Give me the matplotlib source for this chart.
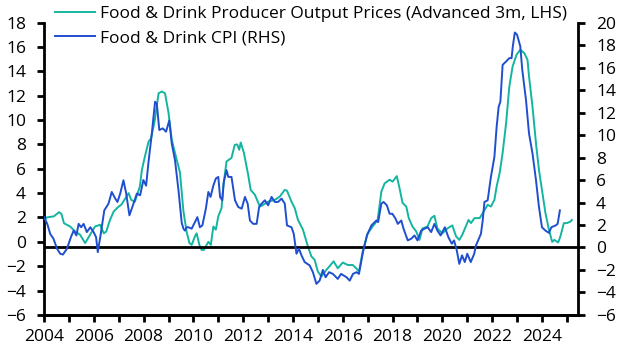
import matplotlib

matplotlib.use("Agg")

import matplotlib.pyplot as plt
from matplotlib.ticker import MultipleLocator

plt.rcParams["font.family"] = ["Open Sans", "DejaVu Sans"]

TEAL = "#14B5A0"
BLUE = "#1F4FCF"

# Food & Drink producer output prices (advanced 3m), % y/y, LHS
ppi_dates = [
    2004.0, 2004.1, 2004.4, 2004.6, 2004.7, 2004.8, 2005.05, 2005.25, 2005.45, 2005.65,
    2005.85, 2006.05, 2006.25, 2006.4, 2006.5, 2006.65, 2006.8, 2007.0, 2007.1, 2007.4,
    2007.5, 2007.65, 2007.85, 2007.93, 2008.05, 2008.2, 2008.3, 2008.45, 2008.6, 2008.73,
    2008.86, 2009.0, 2009.13, 2009.26, 2009.46, 2009.6, 2009.73, 2009.84, 2009.93, 2010.06,
    2010.13, 2010.24, 2010.33, 2010.42, 2010.6, 2010.7, 2010.8, 2010.9, 2011.0, 2011.13,
    2011.2, 2011.33, 2011.53, 2011.66, 2011.76, 2011.84, 2011.9, 2012.03, 2012.2, 2012.3,
    2012.47, 2012.67, 2012.8, 2013.0, 2013.27, 2013.47, 2013.67, 2013.76, 2013.94, 2014.07,
    2014.2, 2014.4, 2014.6, 2014.74, 2014.87, 2015.0, 2015.14, 2015.34, 2015.47, 2015.63,
    2015.8, 2016.0, 2016.2, 2016.4, 2016.55, 2016.65, 2016.8, 2017.0, 2017.2, 2017.4,
    2017.55, 2017.68, 2017.88, 2018.0, 2018.17, 2018.28, 2018.4, 2018.55, 2018.65, 2018.8,
    2018.95, 2019.08, 2019.2, 2019.4, 2019.55, 2019.68, 2019.8, 2020.0, 2020.2, 2020.4,
    2020.55, 2020.68, 2020.8, 2020.94, 2021.05, 2021.15, 2021.29, 2021.5, 2021.62, 2021.82,
    2021.95, 2022.09, 2022.18, 2022.3, 2022.42, 2022.56, 2022.69, 2022.82, 2022.98, 2023.13,
    2023.29, 2023.42, 2023.48, 2023.62, 2023.76, 2023.88, 2024.02, 2024.14, 2024.28, 2024.41,
    2024.5, 2024.65, 2024.74, 2024.88, 2025.0, 2025.15, 2025.2,
]
ppi_values = [
    1.6, 2.0, 2.1, 2.44, 2.3, 1.53, 1.26, 0.85, 0.58, -0.1,
    0.58, 1.26, 1.4, 0.7, 0.85, 1.8, 2.5, 2.9, 3.04, 4.0,
    3.45, 3.3, 4.55, 5.9, 7.0, 8.24, 8.5, 10.0, 12.2, 12.35,
    12.2, 10.6, 8.4, 7.3, 5.7, 2.5, 0.8, -0.1, -0.25, 0.44,
    0.7, -0.25, -0.66, -0.66, 0.0, -0.25, 1.26, 1.0, 2.1, 2.77,
    4.55, 6.6, 6.9, 7.97, 8.0, 7.56, 8.16, 7.3, 5.5, 4.27,
    3.86, 2.9, 3.04, 3.3, 3.45, 3.72, 4.27, 4.2, 3.3, 2.77,
    1.8, 1.0, -0.39, -1.2, -1.48, -2.44, -2.85, -2.3, -2.0, -1.6,
    -2.17, -1.7, -1.9, -1.9, -2.2, -2.44, -0.8, 0.7, 1.26, 1.8,
    4.13, 4.8, 5.1, 4.95, 5.4, 4.4, 3.2, 2.9, 1.95, 1.26,
    0.85, 0.16, 1.1, 1.26, 1.95, 2.14, 1.1, 0.7, 1.1, 1.35,
    0.45, 0.16, 0.58, 1.26, 1.8, 1.54, 1.95, 1.95, 2.36, 3.04,
    2.9, 3.45, 4.55, 5.64, 7.3, 9.75, 12.76, 14.4, 15.37, 15.78,
    15.5, 14.95, 13.6, 11.1, 8.1, 5.9, 4.0, 2.36, 1.0, 0.0,
    0.16, -0.05, 0.44, 1.54, 1.54, 1.67, 1.8,
]

# Food & Drink CPI, % y/y, RHS
cpi_dates = [
    2004.0, 2004.13, 2004.25, 2004.38, 2004.52, 2004.65, 2004.76, 2004.92, 2005.08, 2005.19,
    2005.3, 2005.39, 2005.49, 2005.59, 2005.72, 2005.86, 2005.99, 2006.09, 2006.16, 2006.28,
    2006.42, 2006.59, 2006.72, 2006.86, 2006.95, 2007.06, 2007.19, 2007.3, 2007.43, 2007.57,
    2007.73, 2007.86, 2007.99, 2008.1, 2008.19, 2008.33, 2008.46, 2008.53, 2008.63, 2008.77,
    2008.9, 2009.03, 2009.13, 2009.26, 2009.4, 2009.53, 2009.6, 2009.66, 2009.73, 2009.8,
    2009.93, 2010.06, 2010.16, 2010.26, 2010.36, 2010.5, 2010.6, 2010.69, 2010.8, 2010.9,
    2011.0, 2011.07, 2011.16, 2011.22, 2011.33, 2011.4, 2011.53, 2011.67, 2011.8, 2011.94,
    2012.07, 2012.18, 2012.27, 2012.4, 2012.54, 2012.64, 2012.74, 2012.87, 2013.0, 2013.14,
    2013.27, 2013.4, 2013.54, 2013.67, 2013.76, 2013.94, 2014.03, 2014.14, 2014.24, 2014.34,
    2014.47, 2014.67, 2014.8, 2014.94, 2015.07, 2015.2, 2015.31, 2015.45, 2015.6, 2015.8,
    2015.93, 2016.15, 2016.28, 2016.41, 2016.55, 2016.65, 2016.81, 2016.97, 2017.15, 2017.35,
    2017.42, 2017.55, 2017.64, 2017.77, 2017.88, 2017.99, 2018.12, 2018.21, 2018.35, 2018.44,
    2018.61, 2018.75, 2018.88, 2019.0, 2019.15, 2019.28, 2019.41, 2019.55, 2019.68, 2019.8,
    2019.93, 2020.1, 2020.24, 2020.38, 2020.47, 2020.58, 2020.68, 2020.79, 2020.9, 2021.0,
    2021.14, 2021.28, 2021.35, 2021.55, 2021.62, 2021.69, 2021.82, 2021.95, 2022.09, 2022.18,
    2022.26, 2022.33, 2022.42, 2022.56, 2022.69, 2022.78, 2022.83, 2022.91, 2023.0, 2023.13,
    2023.21, 2023.36, 2023.48, 2023.62, 2023.76, 2023.88, 2024.0, 2024.14, 2024.28, 2024.38,
    2024.55, 2024.63, 2024.72,
]
cpi_values = [
    2.7, 2.1, 1.2, 0.78, -0.1, -0.56, -0.63, -0.12, 0.92, 1.5,
    1.07, 2.1, 1.8, 2.1, 1.37, 1.8, 1.37, 0.92, -0.42, 1.22,
    3.3, 3.9, 4.94, 4.35, 4.05, 4.8, 5.98, 4.8, 2.86, 3.75,
    4.8, 4.64, 6.0, 5.5, 7.47, 10.15, 12.97, 12.8, 10.45, 10.6,
    10.3, 11.3, 9.26, 7.77, 5.1, 2.2, 1.67, 1.5, 1.8, 1.8,
    1.67, 2.26, 2.7, 1.8, 1.96, 3.45, 4.94, 4.5, 5.5, 6.13,
    6.28, 4.5, 4.2, 5.83, 6.88, 6.28, 6.28, 4.2, 3.6, 3.45,
    4.5, 3.9, 2.4, 2.1, 2.1, 3.6, 3.9, 4.2, 3.75, 4.5,
    4.05, 4.05, 4.35, 3.9, 1.96, 1.8, 1.22, -0.56, -0.1, -0.7,
    -1.3, -1.6, -2.2, -3.24, -2.95, -2.0, -2.65, -2.2, -2.35, -2.8,
    -2.35, -2.65, -2.95, -2.35, -2.2, -2.35, -0.42, 1.07, 1.96, 2.4,
    2.26, 3.9, 4.05, 3.75, 3.0, 3.0, 2.56, 2.1, 2.4, 1.67,
    0.63, 0.78, 1.07, 0.63, 1.5, 1.67, 1.8, 1.37, 2.1, 1.5,
    1.07, 1.8, 0.92, 0.33, 0.63, -0.27, -1.46, -0.7, -1.3, -0.56,
    -1.3, -0.56, 0.18, 1.22, 2.4, 4.05, 4.2, 6.28, 8.06, 10.74,
    12.5, 12.97, 16.25, 16.55, 16.85, 16.85, 17.9, 19.13, 18.93, 17.9,
    15.8, 13.1, 10.15, 8.37, 6.0, 3.6, 1.8, 1.5, 1.3, 1.8,
    1.96, 2.1, 3.3,
]

x_ticks = list(range(2004, 2026, 2))
FS = 12.5


def style_axis(ax):
    ax.spines["top"].set_visible(False)
    for side in ("left", "right", "bottom"):
        ax.spines[side].set_linewidth(2.0)
        ax.spines[side].set_color("black")
    ax.tick_params(width=2.0, length=5, labelsize=FS, colors="black")
    ax.tick_params(axis="y", pad=8)
    ax.tick_params(axis="x", which="both", pad=5, width=2.0, length=5)


fig = plt.figure(figsize=(6.29, 3.55), dpi=100)
ax1 = fig.add_axes([0.070, 0.113, 0.849, 0.823])
ax2 = ax1.twinx()

(l1,) = ax1.plot(ppi_dates, ppi_values, color=TEAL, linewidth=1.4,
                 label="Food & Drink Producer Output Prices (Advanced 3m, LHS)")
(l2,) = ax2.plot(cpi_dates, cpi_values, color=BLUE, linewidth=1.4,
                 label="Food & Drink CPI (RHS)", zorder=3)
ax2.axhline(0, color="black", linewidth=2.0, zorder=2)

ax1.set_xlim(2004, 2025.45)
ax1.set_ylim(-6, 18)
ax2.set_ylim(-6, 20)
ax1.yaxis.set_major_locator(MultipleLocator(2))
ax2.yaxis.set_major_locator(MultipleLocator(2))
ax1.set_xticks(x_ticks)
ax1.set_xticklabels([str(t) for t in x_ticks])
ax1.xaxis.set_minor_locator(MultipleLocator(1))

style_axis(ax1)
style_axis(ax2)
ax2.spines["left"].set_visible(False)
ax1.spines["right"].set_visible(False)

fig.legend(handles=[l1, l2], loc="upper left", bbox_to_anchor=(0.07, 1.015),
           frameon=False, fontsize=FS, handlelength=2.3, handletextpad=0.3,
           borderpad=0.15, labelspacing=0.45)

fig.savefig("out.png", dpi=100)
